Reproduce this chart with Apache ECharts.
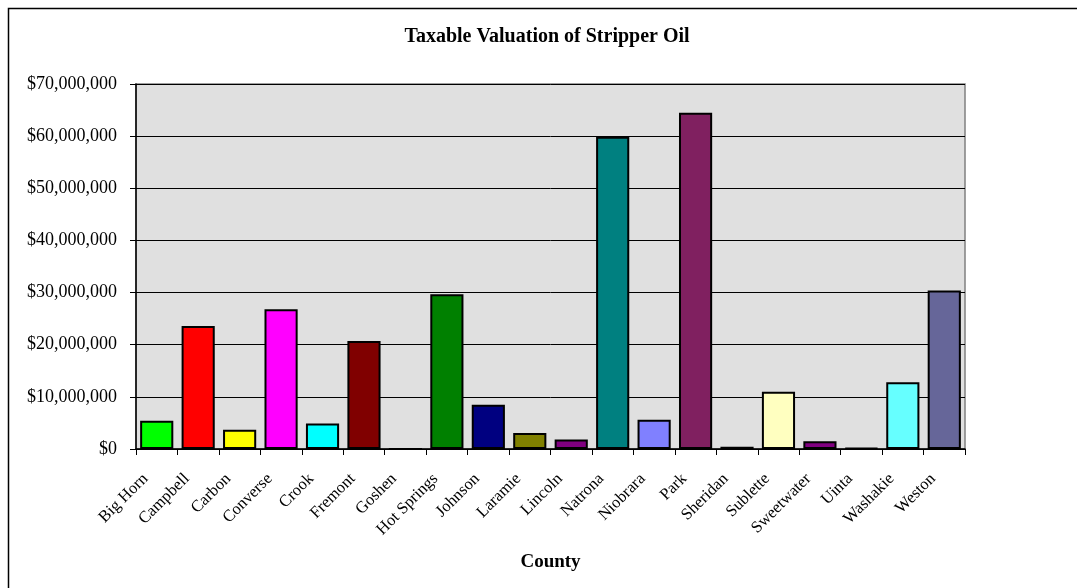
<!DOCTYPE html>
<html>
<head>
<meta charset="utf-8">
<script src="https://cdn.jsdelivr.net/npm/echarts@6/dist/echarts.min.js"></script>
<style>
html,body{margin:0;padding:0;background:#fff;}
#chart{width:1077px;height:588px;}
</style>
</head>
<body>
<div id="chart"></div>
<script>
const counties = ["Big Horn","Campbell","Carbon","Converse","Crook","Fremont","Goshen","Hot Springs","Johnson","Laramie","Lincoln","Natrona","Niobrara","Park","Sheridan","Sublette","Sweetwater","Uinta","Washakie","Weston"];
const valuations = [5400000,23600000,3700000,26800000,4900000,20700000,0,29700000,8500000,3050000,1800000,59900000,5600000,64500000,450000,11000000,1500000,150000,12800000,30400000];
const barColors = ["#00FF00","#FF0000","#FFFF00","#FF00FF","#00FFFF","#800000","#008000","#008000","#000080","#808000","#800080","#008080","#8080FF","#802060","#5B5BCF","#FFFFC0","#800080","#6666CC","#66FFFF","#666699"];
const yTicks = [0,10000000,20000000,30000000,40000000,50000000,60000000,70000000];

const chart = echarts.init(document.getElementById('chart'));
const serif = '"Liberation Serif","Times New Roman",serif';
function money(v){
  return '$' + Math.round(v).toString().replace(/\B(?=(\d{3})+(?!\d))/g, ',');
}
chart.setOption({
  animation:false,
  backgroundColor:'#ffffff',
  graphic:[{
    type:'rect', left:6, top:6, shape:{x:0,y:0,width:1100,height:620},
    style:{fill:'none',stroke:'#000',lineWidth:1.5}, silent:true, z:-1
  }],
  title:{
    text:'Taxable Valuation of Stripper Oil',
    left:542, top:22, textAlign:'center',
    textStyle:{fontFamily:serif,fontSize:20,fontWeight:'bold',color:'#000'}
  },
  grid:{left:136,right:112,top:84,bottom:139,show:true,backgroundColor:'#E0E0E0',borderColor:'#808080',borderWidth:1.5},
  xAxis:{
    type:'category',
    data:counties,
    name:'County',
    nameLocation:'middle',
    nameGap:104,
    nameTextStyle:{fontFamily:serif,fontSize:19,fontWeight:'bold',color:'#000'},
    axisLine:{lineStyle:{color:'#000',width:1.5}},
    axisTick:{show:true,length:6,lineStyle:{color:'#000'}},
    axisLabel:{rotate:45,interval:0,margin:16,padding:[0,16,0,0],fontFamily:serif,fontSize:16.5,color:'#000'}
  },
  yAxis:{
    type:'value',
    min:0,max:70000000,interval:10000000,
    axisLine:{show:true,lineStyle:{color:'#000',width:1.5}},
    axisTick:{show:true,length:6,lineStyle:{color:'#000'}},
    splitLine:{show:true,lineStyle:{color:'#000',width:1}},
    axisLabel:{margin:19,fontFamily:serif,fontSize:18,color:'#000',formatter:money}
  },
  series:[{
    type:'bar',
    barCategoryGap:'20%',
    data:valuations.map((v,i)=>({value:v,itemStyle:{color:barColors[i]}})),
    itemStyle:{borderColor:'#000',borderWidth:2}
  }]
});
</script>
</body>
</html>
